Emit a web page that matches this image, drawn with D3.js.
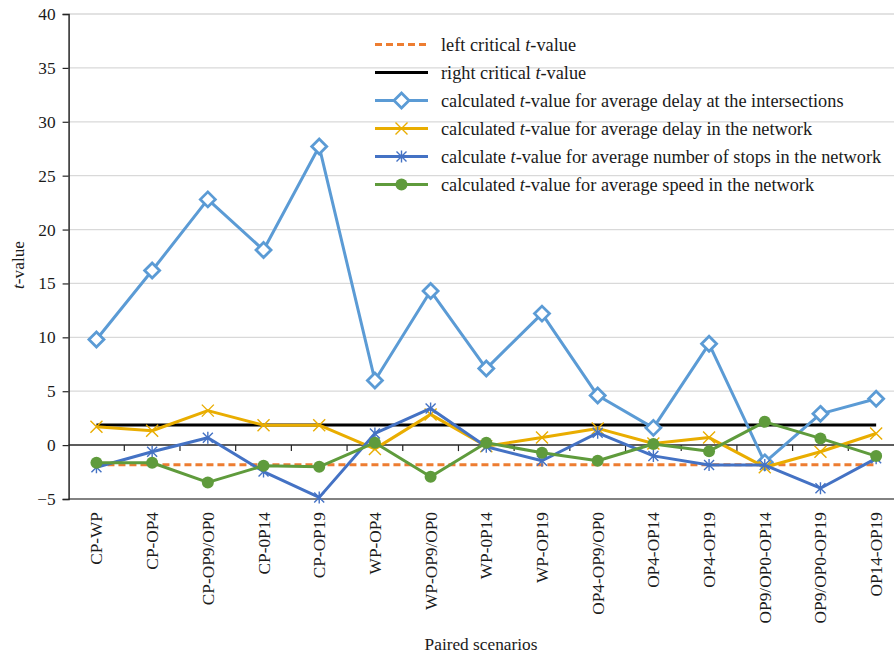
<!DOCTYPE html>
<html>
<head>
<meta charset="utf-8">
<script src="https://cdn.jsdelivr.net/npm/d3@7"></script>
<style>
  html, body { margin: 0; padding: 0; background: #fff; }
  svg { display: block; font-family: "Liberation Serif", "DejaVu Serif", serif; }
</style>
</head>
<body>
<svg id="chart" width="894" height="657"></svg>
<script>
// Paired scenarios on the category axis
const categories = ["CP-WP", "CP-OP4", "CP-OP9/OP0", "CP-0P14", "CP-OP19", "WP-OP4", "WP-OP9/OP0",
  "WP-0P14", "WP-OP19", "OP4-OP9/OP0", "OP4-OP14", "OP4-OP19", "OP9/OP0-OP14", "OP9/OP0-OP19", "OP14-OP19"];

// Critical t-values
const leftCritical = -1.83;
const rightCritical = 1.86;

// Calculated t-values per paired scenario
const delayIntersections = [9.8, 16.2, 22.8, 18.1, 27.7, 6.0, 14.3, 7.1, 12.2, 4.6, 1.6, 9.4, -1.6, 2.9, 4.3];
const delayNetwork = [1.7, 1.33, 3.2, 1.85, 1.85, -0.35, 2.85, -0.1, 0.7, 1.55, 0.15, 0.7, -2.05, -0.62, 1.08];
const stopsNetwork = [-2.05, -0.62, 0.68, -2.45, -4.85, 1.08, 3.4, -0.15, -1.45, 1.14, -1.0, -1.85, -1.85, -4.0, -1.23];
const speedNetwork = [-1.64, -1.64, -3.46, -1.92, -2.01, 0.22, -2.94, 0.22, -0.71, -1.45, 0.1, -0.56, 2.16, 0.62, -1.02];

const yTicks = [-5, 0, 5, 10, 15, 20, 25, 30, 35, 40];

const svg = d3.select("#chart");
const plot = { left: 68.6, right: 904, top: 14, bottom: 499 };
const axisFont = 17.3;
const legendFont = 18.3;

const x = d3.scaleBand().domain(categories).range([plot.left, plot.right]).padding(0);
const y = d3.scaleLinear().domain([-5, 40]).range([plot.bottom, plot.top]);
const cx = c => x(c) + x.bandwidth() / 2;

// Horizontal gridlines
svg.append("g").selectAll("line")
  .data(yTicks.filter(t => t !== 0 && t !== -5))
  .join("line")
  .attr("x1", plot.left).attr("x2", plot.right)
  .attr("y1", d => y(d)).attr("y2", d => y(d))
  .attr("stroke", "#d9d9d9").attr("stroke-width", 1.3);

// Bottom frame line
svg.append("line")
  .attr("x1", plot.left).attr("x2", plot.right)
  .attr("y1", y(-5)).attr("y2", y(-5))
  .attr("stroke", "#595959").attr("stroke-width", 1.5);

// Y axis
const yAxis = svg.append("g")
  .attr("transform", `translate(${plot.left},0)`)
  .call(d3.axisLeft(y).tickValues(yTicks).tickSize(6).tickPadding(7)
    .tickFormat(d => d < 0 ? "\u2212" + Math.abs(d) : d));
yAxis.select(".domain").attr("stroke", "#262626").attr("stroke-width", 1.5);
yAxis.selectAll(".tick line").attr("stroke", "#262626").attr("stroke-width", 1.2);
yAxis.selectAll(".tick text").attr("font-size", axisFont).attr("fill", "#1a1a1a")
  .attr("font-family", "Liberation Serif, serif");

// Category axis on the zero line
const xAxis = svg.append("g")
  .attr("transform", `translate(0,${y(0)})`)
  .call(d3.axisBottom(x).tickValues(categories.slice(1)).tickSize(6).tickFormat(""));
xAxis.select(".domain").remove();
xAxis.selectAll(".tick line").attr("stroke", "#262626").attr("stroke-width", 1.2)
  .attr("transform", `translate(${-x.bandwidth() / 2},0)`);
svg.append("line")
  .attr("x1", plot.left).attr("x2", plot.right)
  .attr("y1", y(0)).attr("y2", y(0))
  .attr("stroke", "#262626").attr("stroke-width", 1.5);

// Category labels, rotated
svg.append("g").selectAll("text")
  .data(categories)
  .join("text")
  .attr("transform", d => `translate(${cx(d) + 6},${plot.bottom + 13}) rotate(-90)`)
  .attr("text-anchor", "end")
  .attr("font-size", axisFont)
  .attr("fill", "#1a1a1a")
  .text(d => d);

// Axis titles
const yTitle = svg.append("text")
  .attr("transform", `translate(24,265) rotate(-90)`)
  .attr("text-anchor", "middle")
  .attr("font-size", axisFont)
  .attr("fill", "#1a1a1a");
yTitle.append("tspan").attr("font-style", "italic").text("t");
yTitle.append("tspan").text("-value");

svg.append("text")
  .attr("x", 481).attr("y", 650)
  .attr("text-anchor", "middle")
  .attr("font-size", axisFont)
  .attr("fill", "#1a1a1a")
  .text("Paired scenarios");

// Series definitions
const line = d3.line().x((d, i) => cx(categories[i])).y(d => y(d));

const series = [
  { name: "left", values: categories.map(() => leftCritical), color: "#ED7D31", dash: "7,4", marker: null },
  { name: "right", values: categories.map(() => rightCritical), color: "#000000", dash: null, marker: null },
  { name: "intersections", values: delayIntersections, color: "#5B9BD5", dash: null, marker: "diamond" },
  { name: "network", values: delayNetwork, color: "#E9AD00", dash: null, marker: "x" },
  { name: "stops", values: stopsNetwork, color: "#4472C4", dash: null, marker: "star" },
  { name: "speed", values: speedNetwork, color: "#5F9B3C", dash: null, marker: "circle" }
];

function drawMarker(g, type, color) {
  if (type === "diamond") {
    g.append("path").attr("d", "M0,-7.5 L7.5,0 L0,7.5 L-7.5,0 Z")
      .attr("fill", "#fff").attr("stroke", color).attr("stroke-width", 2.8);
  } else if (type === "x") {
    g.append("path").attr("d", "M-6,-6 L6,6 M-6,6 L6,-6")
      .attr("stroke", color).attr("stroke-width", 1.4).attr("fill", "none");
  } else if (type === "star") {
    g.append("path").attr("d", "M-5,-5 L5,5 M-5,5 L5,-5 M0,-6 L0,6")
      .attr("stroke", color).attr("stroke-width", 1.4).attr("fill", "none");
  } else if (type === "circle") {
    g.append("circle").attr("r", 6).attr("fill", color);
  }
}

// Draw lines in order, markers with their series
series.forEach(s => {
  const g = svg.append("g");
  g.append("path")
    .datum(s.values)
    .attr("d", line)
    .attr("fill", "none")
    .attr("stroke", s.color)
    .attr("stroke-width", 3)
    .attr("stroke-linejoin", "round")
    .attr("stroke-dasharray", s.dash);
  if (s.marker) {
    s.values.forEach((v, i) => {
      const m = g.append("g").attr("transform", `translate(${cx(categories[i])},${y(v)})`);
      drawMarker(m, s.marker, s.color);
    });
  }
});

// Legend
const legendItems = [
  { s: series[0], parts: [["left critical ", false], ["t", true], ["-value", false]] },
  { s: series[1], parts: [["right critical ", false], ["t", true], ["-value", false]] },
  { s: series[2], parts: [["calculated ", false], ["t", true], ["-value for average delay at the intersections", false]] },
  { s: series[3], parts: [["calculated ", false], ["t", true], ["-value for average delay in the network", false]] },
  { s: series[4], parts: [["calculate ", false], ["t", true], ["-value for average number of stops in the network", false]] },
  { s: series[5], parts: [["calculated ", false], ["t", true], ["-value for average speed in the network", false]] }
];
const legend = svg.append("g");
legendItems.forEach((item, i) => {
  const yy = 44.5 + i * 28;
  const g = legend.append("g").attr("transform", `translate(0,${yy})`);
  g.append("line").attr("x1", 375).attr("x2", 428).attr("y1", 0).attr("y2", 0)
    .attr("stroke", item.s.color).attr("stroke-width", 3)
    .attr("stroke-dasharray", item.s.dash);
  if (item.s.marker) {
    const m = g.append("g").attr("transform", "translate(401.5,0)");
    drawMarker(m, item.s.marker, item.s.color);
  }
  const t = g.append("text").attr("x", 441).attr("y", 6)
    .attr("font-size", legendFont).attr("fill", "#1a1a1a");
  item.parts.forEach(([txt, it]) => {
    const ts = t.append("tspan").text(txt);
    if (it) ts.attr("font-style", "italic");
  });
});
</script>
</body>
</html>
